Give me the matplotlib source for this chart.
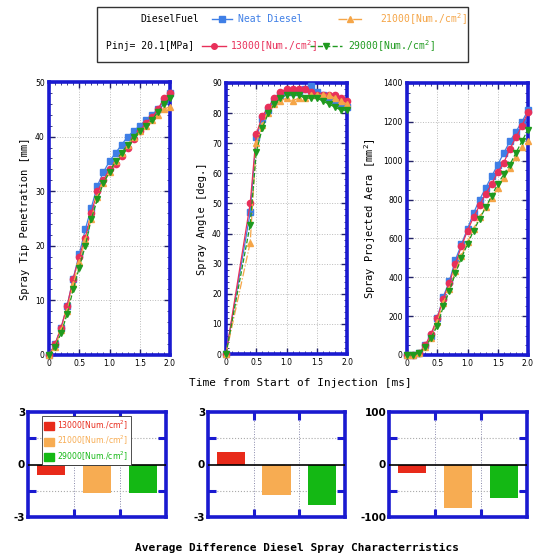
import numpy as np
import matplotlib
matplotlib.use("Agg")
import matplotlib.pyplot as plt
from matplotlib.lines import Line2D
from matplotlib.patches import Rectangle

# ---------------- data ----------------
t_full = [0.0, 0.1, 0.2, 0.3, 0.4, 0.5, 0.6, 0.7, 0.8, 0.9, 1.0,
          1.1, 1.2, 1.3, 1.4, 1.5, 1.6, 1.7, 1.8, 1.9, 2.0]
t_angle = [0.0, 0.4, 0.5, 0.6, 0.7, 0.8, 0.9, 1.0, 1.1, 1.2, 1.3,
           1.4, 1.5, 1.6, 1.7, 1.8, 1.9, 2.0]

series_names = ["Neat Diesel", "13000[Num./cm$^2$]", "21000[Num./cm$^2$]", "29000[Num./cm$^2$]"]

pen_neat = [0, 2, 5, 9, 14, 18.5, 23, 27, 31, 33.5, 35.5, 37, 38.5, 40, 41, 42, 43, 44, 45, 46.5, 48]
pen_13 = [0, 2, 5, 9, 14, 18, 21.5, 26, 30, 32, 34, 35, 36.5, 38, 39.5, 41, 42.5, 43.5, 45, 47, 48]
pen_21 = [0, 1.5, 4.5, 8, 13, 17, 21, 25, 29, 31.5, 33.5, 35.5, 37, 38.5, 40, 41, 42, 43, 44, 45, 45.5]
pen_29 = [0, 1.5, 4, 7.5, 12, 16, 20, 25, 28.5, 31.5, 33.5, 35.5, 37, 38.5, 40, 41, 42, 43, 44.5, 46, 47]

ang_neat = [0, 47, 72, 78, 81, 84, 86, 87, 87, 87, 88, 89, 87, 86, 85, 84, 83, 82]
ang_13 = [0, 50, 73, 79, 82, 85, 87, 88, 88, 88, 88, 87, 86, 86, 86, 86, 85, 84]
ang_21 = [0, 37, 70, 76, 80, 83, 84, 85, 84, 85, 85, 86, 86, 86, 86, 85, 84, 83]
ang_29 = [0, 43, 67, 75, 80, 83, 85, 86, 86, 86, 85, 85, 85, 84, 83, 82, 81, 81]

area_neat = [0, 0, 10, 50, 100, 190, 300, 380, 490, 570, 650, 730, 800, 860, 920, 980, 1040, 1100, 1150, 1200, 1260]
area_13 = [0, 0, 10, 50, 110, 190, 290, 370, 470, 560, 640, 710, 770, 830, 880, 940, 990, 1060, 1120, 1180, 1250]
area_21 = [0, 0, 10, 40, 90, 170, 270, 340, 430, 510, 580, 650, 710, 760, 810, 860, 910, 960, 1020, 1070, 1100]
area_29 = [0, 0, 10, 40, 90, 150, 250, 330, 420, 500, 570, 640, 700, 760, 820, 880, 930, 980, 1040, 1100, 1160]

bar_labels = ["13000[Num./cm$^2$]", "21000[Num./cm$^2$]", "29000[Num./cm$^2$]"]
diff_pen = [-0.6, -1.6, -1.65]
diff_ang = [0.7, -1.75, -2.3]
diff_area = [-17, -82, -63]

# ---------------- style ----------------
C_NEAT = "#3f7fe6"
C_13 = "#e8305a"
C_21 = "#f5a547"
C_29 = "#1f9a1f"
BAR_C = ["#e82a1a", "#f7ac52", "#14b814"]
FRAME = "#1a1ad0"

styles = [
    dict(color=C_NEAT, marker="s", ls="-"),
    dict(color=C_13, marker="o", ls="-"),
    dict(color=C_21, marker="^", ls="-."),
    dict(color=C_29, marker="v", ls="--"),
]

W, H = 540, 560
fig = plt.figure(figsize=(W / 100, H / 100), dpi=100)
fig.patch.set_facecolor("white")


def ax_px(x0, y0, x1, y1):
    return fig.add_axes([x0 / W, 1 - y1 / H, (x1 - x0) / W, (y1 - y0) / H])


def frame(ax):
    for s in ax.spines.values():
        s.set_color(FRAME)
        s.set_linewidth(2.6)


def top_panel(ax, t, ys, ylim, ystep, minor, ylabel):
    for y, st in zip(ys, styles):
        ax.plot(t, y, color=st["color"], ls=st["ls"], lw=0.9, marker=st["marker"],
                ms=4.5, mec=st["color"], mfc=st["color"], clip_on=False, zorder=3)
    ax.set_xlim(0, 2)
    ax.set_ylim(*ylim)
    ax.set_xticks([0, 0.5, 1.0, 1.5, 2.0])
    ax.set_xticklabels(["0", "0.5", "1.0", "1.5", "2.0"])
    ax.set_yticks(np.arange(ylim[0], ylim[1] + 1e-9, ystep))
    ax.set_yticks(np.arange(ylim[0], ylim[1] + 1e-9, minor), minor=True)
    ax.set_xticks(np.arange(0, 2.01, 0.1), minor=True)
    ax.grid(True, which="major", color="#bbbbbb", ls=":", lw=0.7)
    ax.tick_params(which="both", direction="in", top=True, right=True,
                   color="#222266", labelsize=5.5, pad=3)
    ax.tick_params(which="major", length=4, width=1.0)
    ax.tick_params(which="minor", length=2, width=0.6)
    ax.set_ylabel(ylabel, fontsize=7.5, family="DejaVu Sans Mono", labelpad=4)
    frame(ax)


ax1 = ax_px(49, 82, 170, 355)
top_panel(ax1, t_full, [pen_neat, pen_13, pen_21, pen_29], (0, 50), 10, 2,
          "Spray Tip Penetration [mm]")
ax2 = ax_px(226, 83, 347, 354)
top_panel(ax2, t_angle, [ang_neat, ang_13, ang_21, ang_29], (0, 90), 10, 2,
          "Spray Angle [deg.]")
ax3 = ax_px(407, 83, 528, 355)
top_panel(ax3, t_full, [area_neat, area_13, area_21, area_29], (0, 1400), 200, 50,
          "Spray Projected Aera [mm$^2$]")

fig.text(300 / W, 1 - 383 / H, "Time from Start of Injection [ms]", ha="center",
         va="center", fontsize=8, family="DejaVu Sans Mono")


def bottom_panel(ax, vals, lim, ticklabels):
    x = np.arange(3) + 0.5
    ax.bar(x, vals, width=0.62, color=BAR_C, zorder=2)
    ax.set_xlim(0, 3)
    ax.set_ylim(-lim, lim)
    ax.axhline(0, color="black", lw=1.2, zorder=3)
    ax.set_yticks([-lim, 0, lim])
    ax.set_yticklabels(ticklabels, fontsize=7.5, fontweight="bold")
    ax.set_yticks([-lim / 2, lim / 2], minor=True)
    ax.set_xticks([1, 2])
    ax.set_xticklabels([])
    for v in [1, 2]:
        ax.axvline(v, color="#8888aa", ls=":", lw=0.7, zorder=1)
    for v in [-lim / 2, lim / 2]:
        ax.axhline(v, color="#aaaaaa", ls=":", lw=0.8, zorder=1)
    ax.tick_params(which="both", direction="in", top=True, right=True,
                   color=FRAME, width=2.2, length=6, pad=2)
    ax.tick_params(axis="y", which="major", length=0)
    frame(ax)


b1 = ax_px(28, 412, 166, 517)
bottom_panel(b1, diff_pen, 3, ["-3", "0", "3"])
b2 = ax_px(208, 412, 345, 517)
bottom_panel(b2, diff_ang, 3, ["-3", "0", "3"])
b3 = ax_px(389, 412, 527, 517)
bottom_panel(b3, diff_area, 100, ["-100", "0", "100"])

handles = [Rectangle((0, 0), 1, 1, color=c) for c in BAR_C]
leg = b1.legend(handles, bar_labels, loc="upper left", fontsize=5.6, frameon=True,
                handlelength=1.3, handleheight=1.2, borderpad=0.35, labelspacing=0.3,
                handletextpad=0.4, fancybox=False, edgecolor="#333333",
                bbox_to_anchor=(0.07, 1.0), framealpha=1)
leg.get_frame().set_linewidth(0.6)
for txt, c in zip(leg.get_texts(), BAR_C):
    txt.set_color(c)

fig.text(297 / W, 1 - 548 / H, "Average Difference Diesel Spray Characterristics",
         ha="center", va="center", fontsize=8, fontweight="bold",
         family="DejaVu Sans Mono")

# ---------------- top legend box ----------------
lg = fig.add_axes([0, 0, 1, 1], zorder=-1)
lg.set_xlim(0, W)
lg.set_ylim(H, 0)
lg.axis("off")
lg.add_patch(Rectangle((97, 7), 371, 55, fill=False, ec="#333333", lw=1.0))

font = dict(fontsize=7, family="DejaVu Sans Mono", va="center")
lg.text(170, 19, "DieselFuel", ha="center", color="black", **font)
lg.text(150, 46, "Pinj= 20.1[MPa]", ha="center", color="black", **font)

entries = [
    (styles[0], (212, 232), 19, 238, series_names[0]),
    (styles[2], (338, 362), 19, 380, series_names[2]),
    (styles[1], (202, 226), 46, 230, series_names[1]),
    (styles[3], (310, 342), 46, 348, series_names[3]),
]
for st, (xa, xb), yy, xt, name in entries:
    lg.add_line(Line2D([xa, xb], [yy, yy], color=st["color"], ls=st["ls"], lw=1.0))
    lg.add_line(Line2D([(xa + xb) / 2], [yy], color=st["color"], marker=st["marker"],
                       ms=4, ls="none"))
    lg.text(xt, yy, name, ha="left", color=st["color"], **font)

fig.savefig("out.png", dpi=100, facecolor="white")
